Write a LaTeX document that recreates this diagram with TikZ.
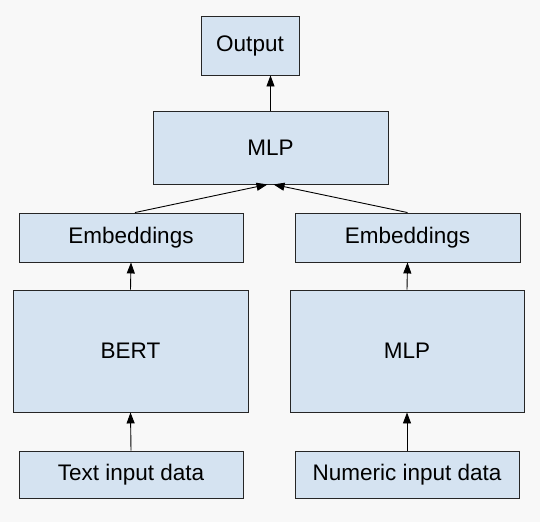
\documentclass[tikz,border=0pt]{standalone}
\usepackage{fontspec}
\setmainfont{Liberation Sans}
\usetikzlibrary{arrows.meta}
\definecolor{boxfill}{HTML}{D5E3F1}
\definecolor{bg}{HTML}{F8F8F8}
\begin{document}
\begin{tikzpicture}[x=1pt,y=-1pt,
  blk/.style={draw=black!85,line width=0.9pt,fill=boxfill,font=\fontsize{22.5}{26}\selectfont,inner sep=0pt},
  arr/.style={-{Triangle[length=11pt,width=8pt]},line width=0.9pt,black}]
\fill[bg] (0,0) rectangle (540,522);
\useasboundingbox (0,0) rectangle (540,522);
\node[blk,minimum width=98pt,minimum height=59pt] (out) at (250,45.5) {Output};
\node[blk,minimum width=235pt,minimum height=73pt] (mlp) at (270.5,147.5) {MLP};
\node[blk,minimum width=224pt,minimum height=49pt] (embl) at (131,237.5) {Embeddings};
\node[blk,minimum width=225pt,minimum height=49pt] (embr) at (407.5,237.5) {Embeddings};
\node[blk,minimum width=235pt,minimum height=122pt] (bert) at (130.5,351) {BERT};
\node[blk,minimum width=234pt,minimum height=122pt] (mlp2) at (407,351) {MLP};
\node[blk,minimum width=224pt,minimum height=47pt] (txt) at (131,474.5) {Text input data};
\node[blk,minimum width=224pt,minimum height=47pt] (num) at (407,474.5) {Numeric input data};
\draw[arr] (txt.north) -- (bert.south);
\draw[arr] (num.north) -- (mlp2.south);
\draw[arr] (bert.north) -- (embl.south);
\draw[arr] (mlp2.north) -- (embr.south);
\draw[arr] ([xshift=4pt]embl.north) -- ([xshift=-3pt]mlp.south);
\draw[arr] (embr.north) -- ([xshift=3pt]mlp.south);
\draw[arr] (mlp.north) -- ([xshift=20.5pt]out.south);
\end{tikzpicture}
\end{document}
